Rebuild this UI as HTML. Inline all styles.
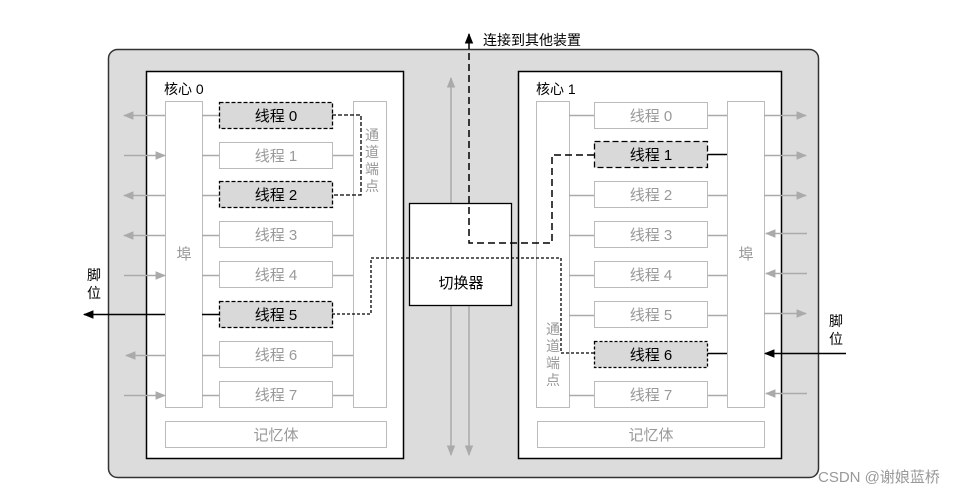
<!DOCTYPE html>
<html><head><meta charset="utf-8"><style>
html,body{margin:0;padding:0;background:#fff;}
svg{display:block;}
text{font-family:"Liberation Sans","Noto Sans CJK SC",sans-serif;}
</style></head><body>
<svg width="970" height="494" viewBox="0 0 970 494" xmlns="http://www.w3.org/2000/svg">
<defs>
<marker id="ag" viewBox="0 0 10 10" refX="9" refY="5" markerWidth="7" markerHeight="7" orient="auto-start-reverse"><path d="M0,1 L10,5 L0,9 z" fill="#aaa"/></marker>
<marker id="ab" viewBox="0 0 10 10" refX="9" refY="5" markerWidth="7" markerHeight="7" orient="auto-start-reverse"><path d="M0,1 L10,5 L0,9 z" fill="#000"/></marker>
</defs>
<rect x="108.5" y="49.5" width="710" height="428" rx="9" fill="#dcdcdc" stroke="#333" stroke-width="1.5"/>
<!-- core 0 -->
<rect x="146.5" y="71.5" width="257" height="387" fill="#fff" stroke="#000" stroke-width="1.5"/>
<text x="164" y="94" font-size="14">核心 0</text>
<rect x="165.5" y="101.5" width="37" height="306" fill="#fff" stroke="#bbb"/>
<text x="184" y="259" font-size="15" fill="#999" text-anchor="middle">埠</text>
<rect x="353.5" y="101.5" width="33" height="306" fill="#fff" stroke="#bbb"/>
<g font-size="14" fill="#999" text-anchor="middle"><text x="372" y="140">通</text><text x="372" y="157">道</text><text x="372" y="174">端</text><text x="372" y="191">点</text></g>
<rect x="165.5" y="421.5" width="221" height="26" fill="#fff" stroke="#bbb"/>
<text x="276" y="440" font-size="15" fill="#999" text-anchor="middle">记忆体</text>
<g stroke="#aaa" stroke-width="1.5">
<line x1="202" y1="115.5" x2="219" y2="115.5"/><line x1="202" y1="155.5" x2="219" y2="155.5"/><line x1="332" y1="155.5" x2="353" y2="155.5"/>
<line x1="202" y1="195.5" x2="219" y2="195.5"/>
<line x1="202" y1="235.5" x2="219" y2="235.5"/><line x1="332" y1="235.5" x2="353" y2="235.5"/>
<line x1="202" y1="275.5" x2="219" y2="275.5"/><line x1="332" y1="275.5" x2="353" y2="275.5"/>
<line x1="202" y1="355.5" x2="219" y2="355.5"/><line x1="332" y1="355.5" x2="353" y2="355.5"/>
<line x1="202" y1="395.5" x2="219" y2="395.5"/><line x1="332" y1="395.5" x2="353" y2="395.5"/>
<line x1="165" y1="115.5" x2="124" y2="115.5" marker-end="url(#ag)"/>
<line x1="124" y1="155.5" x2="165" y2="155.5" marker-end="url(#ag)"/>
<line x1="165" y1="195.5" x2="124" y2="195.5" marker-end="url(#ag)"/>
<line x1="165" y1="235.5" x2="124" y2="235.5" marker-end="url(#ag)"/>
<line x1="124" y1="275.5" x2="165" y2="275.5" marker-end="url(#ag)"/>
<line x1="165" y1="355.5" x2="126" y2="355.5" marker-end="url(#ag)"/>
<line x1="124" y1="395.5" x2="165" y2="395.5" marker-end="url(#ag)"/>
</g>
<line x1="202" y1="314.5" x2="219" y2="314.5" stroke="#000" stroke-width="1.5"/>
<line x1="165" y1="314.5" x2="84" y2="314.5" stroke="#000" stroke-width="1.5" marker-end="url(#ab)"/>
<g font-size="14" fill="#000" text-anchor="middle"><text x="94" y="280">脚</text><text x="94" y="298">位</text></g>
<g font-size="15" text-anchor="middle">
<rect x="219.5" y="102.5" width="113" height="26" fill="#d9d9d9" stroke="#000" stroke-dasharray="4,2" stroke-width="1.3"/><text x="276" y="121">线程 0</text>
<rect x="219.5" y="142.5" width="113" height="26" fill="#fff" stroke="#bbb"/><text x="276" y="161" fill="#999">线程 1</text>
<rect x="219.5" y="181.5" width="113" height="26" fill="#d9d9d9" stroke="#000" stroke-dasharray="4,2" stroke-width="1.3"/><text x="276" y="200">线程 2</text>
<rect x="219.5" y="221.5" width="113" height="26" fill="#fff" stroke="#bbb"/><text x="276" y="240" fill="#999">线程 3</text>
<rect x="219.5" y="261.5" width="113" height="26" fill="#fff" stroke="#bbb"/><text x="276" y="280" fill="#999">线程 4</text>
<rect x="219.5" y="301.5" width="113" height="26" fill="#d9d9d9" stroke="#000" stroke-dasharray="4,2" stroke-width="1.3"/><text x="276" y="320">线程 5</text>
<rect x="219.5" y="341.5" width="113" height="26" fill="#fff" stroke="#bbb"/><text x="276" y="360" fill="#999">线程 6</text>
<rect x="219.5" y="381.5" width="113" height="26" fill="#fff" stroke="#bbb"/><text x="276" y="400" fill="#999">线程 7</text>
</g>
<polyline points="332,115 361,115 361,195 332,195" fill="none" stroke="#000" stroke-width="1.3" stroke-dasharray="4,2"/>
<!-- middle -->
<line x1="451" y1="455" x2="451" y2="78" stroke="#aaa" stroke-width="1.5" marker-end="url(#ag)" marker-start="url(#ag)"/>
<line x1="469" y1="306" x2="469" y2="455" stroke="#aaa" stroke-width="1.5" marker-end="url(#ag)"/>
<rect x="409.5" y="203.5" width="102" height="102" fill="#fff" stroke="#000" stroke-width="1.3"/>
<text x="461" y="288" font-size="15" text-anchor="middle">切换器</text>
<text x="483" y="45" font-size="14">连接到其他装置</text>
<!-- core 1 -->
<rect x="518.5" y="71.5" width="263" height="387" fill="#fff" stroke="#000" stroke-width="1.5"/>
<text x="536" y="94" font-size="14">核心 1</text>
<rect x="536.5" y="101.5" width="33" height="306" fill="#fff" stroke="#bbb"/>
<g font-size="14" fill="#999" text-anchor="middle"><text x="553" y="334">通</text><text x="553" y="351">道</text><text x="553" y="368">端</text><text x="553" y="385">点</text></g>
<rect x="727.5" y="101.5" width="37" height="306" fill="#fff" stroke="#bbb"/>
<text x="746" y="259" font-size="15" fill="#999" text-anchor="middle">埠</text>
<rect x="537.5" y="421.5" width="227" height="26" fill="#fff" stroke="#bbb"/>
<text x="651" y="440" font-size="15" fill="#999" text-anchor="middle">记忆体</text>
<g stroke="#aaa" stroke-width="1.5">
<line x1="569" y1="115.5" x2="594" y2="115.5"/><line x1="707" y1="115.5" x2="727" y2="115.5"/>
<line x1="569" y1="195.5" x2="594" y2="195.5"/><line x1="707" y1="195.5" x2="727" y2="195.5"/>
<line x1="569" y1="235.5" x2="594" y2="235.5"/><line x1="707" y1="235.5" x2="727" y2="235.5"/>
<line x1="569" y1="275.5" x2="594" y2="275.5"/><line x1="707" y1="275.5" x2="727" y2="275.5"/>
<line x1="569" y1="315.5" x2="594" y2="315.5"/><line x1="707" y1="315.5" x2="727" y2="315.5"/>
<line x1="569" y1="395.5" x2="594" y2="395.5"/><line x1="707" y1="395.5" x2="727" y2="395.5"/>
<line x1="764" y1="115.5" x2="806" y2="115.5" marker-end="url(#ag)"/>
<line x1="764" y1="155.5" x2="806" y2="155.5" marker-end="url(#ag)"/>
<line x1="764" y1="195.5" x2="806" y2="195.5" marker-end="url(#ag)"/>
<line x1="807" y1="233.5" x2="766" y2="233.5" marker-end="url(#ag)"/>
<line x1="807" y1="273.5" x2="766" y2="273.5" marker-end="url(#ag)"/>
<line x1="764" y1="313.5" x2="806" y2="313.5" marker-end="url(#ag)"/>
<line x1="807" y1="393.5" x2="766" y2="393.5" marker-end="url(#ag)"/>
</g>
<line x1="707" y1="154.5" x2="727" y2="154.5" stroke="#000" stroke-width="1.5"/>
<line x1="707" y1="353.5" x2="727" y2="353.5" stroke="#000" stroke-width="1.5"/>
<line x1="846" y1="353.5" x2="765" y2="353.5" stroke="#000" stroke-width="1.5" marker-end="url(#ab)"/>
<g font-size="14" fill="#000" text-anchor="middle"><text x="836" y="326">脚</text><text x="836" y="344">位</text></g>
<!-- cross-core connectors drawn on top -->
<polyline points="594,155 552,155 552,243 469,243 469,34" fill="none" stroke="#000" stroke-width="1.5" stroke-dasharray="7,4" marker-end="url(#ab)"/>
<polyline points="332,314 371,314 371,258 561,258 561,353 594,353" fill="none" stroke="#000" stroke-width="1.3" stroke-dasharray="3,2"/>
<g font-size="15" text-anchor="middle">
<rect x="594.5" y="102.5" width="113" height="26" fill="#fff" stroke="#bbb"/><text x="651" y="121" fill="#999">线程 0</text>
<rect x="594.5" y="141.5" width="113" height="26" fill="#d9d9d9" stroke="#000" stroke-dasharray="6,3" stroke-width="1.3"/><text x="651" y="160">线程 1</text>
<rect x="594.5" y="181.5" width="113" height="26" fill="#fff" stroke="#bbb"/><text x="651" y="200" fill="#999">线程 2</text>
<rect x="594.5" y="221.5" width="113" height="26" fill="#fff" stroke="#bbb"/><text x="651" y="240" fill="#999">线程 3</text>
<rect x="594.5" y="261.5" width="113" height="26" fill="#fff" stroke="#bbb"/><text x="651" y="280" fill="#999">线程 4</text>
<rect x="594.5" y="301.5" width="113" height="26" fill="#fff" stroke="#bbb"/><text x="651" y="320" fill="#999">线程 5</text>
<rect x="594.5" y="341.5" width="113" height="26" fill="#d9d9d9" stroke="#000" stroke-dasharray="3,2" stroke-width="1.3"/><text x="651" y="360">线程 6</text>
<rect x="594.5" y="381.5" width="113" height="26" fill="#fff" stroke="#bbb"/><text x="651" y="400" fill="#999">线程 7</text>
</g>
<text x="818" y="482" font-size="15" fill="#999">CSDN @谢娘蓝桥</text>
</svg>
</body></html>
